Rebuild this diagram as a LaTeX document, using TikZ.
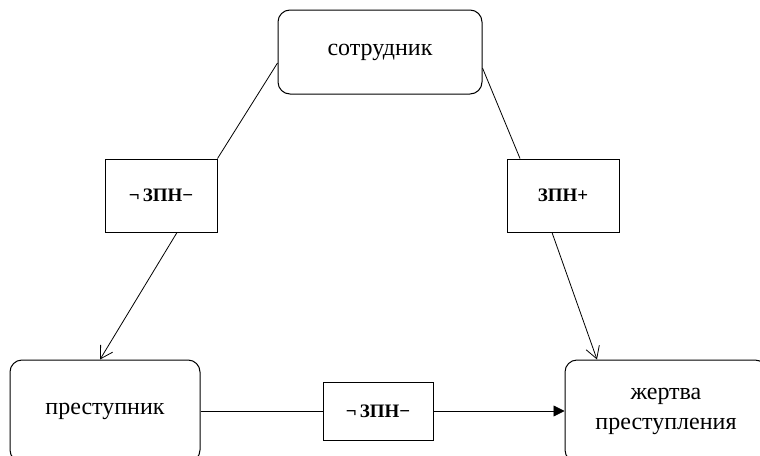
\documentclass[tikz,border=0pt]{standalone}
\usepackage{fontspec}
\setmainfont{Liberation Serif}
\usetikzlibrary{arrows.meta,calc}
\begin{document}
\begin{tikzpicture}[x=1pt,y=-1pt,
  actor/.style={draw,line width=1pt,rounded corners=12pt,align=center,font=\fontsize{24}{30}\selectfont,inner sep=0pt},
  rel/.style={draw,line width=1pt,font=\bfseries\fontsize{19}{22}\selectfont,inner sep=0pt},
  conn/.style={line width=0.8pt},
  openarr/.style={conn,-{Straight Barb[length=12pt,width=14pt,line width=0.8pt]}},
  fillarr/.style={conn,-{Triangle[length=11pt,width=11pt]}}]
\useasboundingbox (0,0) rectangle (760,455);
\clip (0,0) rectangle (760,455);
\node[actor,minimum width=204pt,minimum height=84pt] (sotr) at (380,52) {сотрудник};
\node[actor,minimum width=190pt,minimum height=102pt] (pre) at (105,411) {преступник};
\node[actor,minimum width=202pt,minimum height=102pt] (zh) at (666,411) {жертва\\преступления};
\node[rel,minimum width=112pt,minimum height=73pt] (l1) at (161,195.5) {¬\,ЗПН−};
\node[rel,minimum width=112pt,minimum height=73pt] (r1) at (563,195.5) {ЗПН+};
\node[rel,minimum width=110pt,minimum height=58pt] (b1) at (378,411) {¬\,ЗПН−};
\draw[conn] ($(sotr.west)+(0,11)$) -- (l1.north east);
\draw[openarr] ($(l1.south)+(16,0)$) -- ($(pre.north)+(-5,0)$);
\draw[conn] ($(sotr.east)+(0,16)$) -- ($(r1.north)+(-43,0)$);
\draw[openarr] ($(r1.south)+(-11,0)$) -- ($(zh.north)+(-69,0)$);
\draw[conn] (pre.east) -- (b1.west);
\draw[fillarr] (b1.east) -- (zh.west);
\end{tikzpicture}
\end{document}
